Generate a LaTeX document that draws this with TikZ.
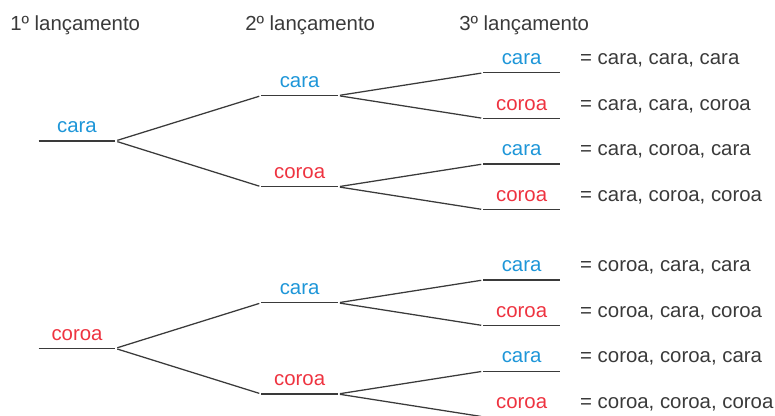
\documentclass[tikz,border=0pt]{standalone}
\usepackage{fontspec}
\setmainfont{Liberation Sans}
\usetikzlibrary{positioning}
\definecolor{azul}{HTML}{1E96D8}
\definecolor{vermelho}{HTML}{EE3340}
\definecolor{cinza}{HTML}{3A3A3A}
\tikzset{
  texto/.style={font=\fontsize{14.5pt}{17pt}\selectfont},
  ramo/.style={texto, minimum width=1.9cm, inner xsep=0pt, inner ysep=0.2cm, text depth=0pt, anchor=south},
  cara/.style={ramo, text=azul},
  coroa/.style={ramo, text=vermelho},
  resultado/.style={texto, text=cinza, inner sep=0pt},
  titulo/.style={texto, text=cinza, inner sep=0pt, anchor=base west},
  traco/.style={draw=cinza, line width=0.9pt},
  liga/.style={traco, shorten <=1.5pt, shorten >=1.5pt}
}
\begin{document}
\begin{tikzpicture}
        \useasboundingbox (0,0) rectangle (19.375,10.4);
        % titulos
        \node[titulo] (t1) at (0.25,9.625) {1º lançamento};
        \node[titulo] (t2) at (6.125,9.625) {2º lançamento};
        \node[titulo] (t3) at (11.475,9.625) {3º lançamento};
        % 1o lancamento
        \node[cara] (c) at (1.925,6.875) {cara};
        \node[coroa] (k) at (1.925,1.69) {coroa};
        % 2o lancamento
        \node[cara] (cc) at (7.49,8.01) {cara};
        \node[coroa] (ck) at (7.49,5.73) {coroa};
        \node[cara] (kc) at (7.49,2.83) {cara};
        \node[coroa] (kk) at (7.49,0.55) {coroa};
        % 3o lancamento
        \node[cara] (ccc) at (13.04,8.58) {cara};
        \node[coroa] (cck) at (13.04,7.44) {coroa};
        \node[cara] (ckc) at (13.04,6.30) {cara};
        \node[coroa] (ckk) at (13.04,5.16) {coroa};
        \node[cara] (kcc) at (13.04,3.40) {cara};
        \node[coroa] (kck) at (13.04,2.26) {coroa};
        \node[cara] (kkc) at (13.04,1.12) {cara};
        \node[coroa] (kkk) at (13.04,-0.02) {coroa};
        % tracos sob os resultados
        \foreach \n in {c,k,cc,ck,kc,kk,ccc,cck,ckc,ckk,kcc,kck,kkc,kkk}
            \draw[traco] (\n.south west) -- (\n.south east);
        % ligacoes
        \foreach \a/\b in {c/cc,c/ck,k/kc,k/kk,cc/ccc,cc/cck,ck/ckc,ck/ckk,kc/kcc,kc/kck,kk/kkc,kk/kkk}
            \draw[liga] (\a.south east) -- (\b.south west);
        % resultados
        \node[resultado, base right=0.5cm of ccc] (rccc) {= cara, cara, cara};
        \node[resultado, base right=0.5cm of cck] (rcck) {= cara, cara, coroa};
        \node[resultado, base right=0.5cm of ckc] (rckc) {= cara, coroa, cara};
        \node[resultado, base right=0.5cm of ckk] (rckk) {= cara, coroa, coroa};
        \node[resultado, base right=0.5cm of kcc] (rkcc) {= coroa, cara, cara};
        \node[resultado, base right=0.5cm of kck] (rkck) {= coroa, cara, coroa};
        \node[resultado, base right=0.5cm of kkc] (rkkc) {= coroa, coroa, cara};
        \node[resultado, base right=0.5cm of kkk] (rkkk) {= coroa, coroa, coroa};
    \end{tikzpicture}
\end{document}
